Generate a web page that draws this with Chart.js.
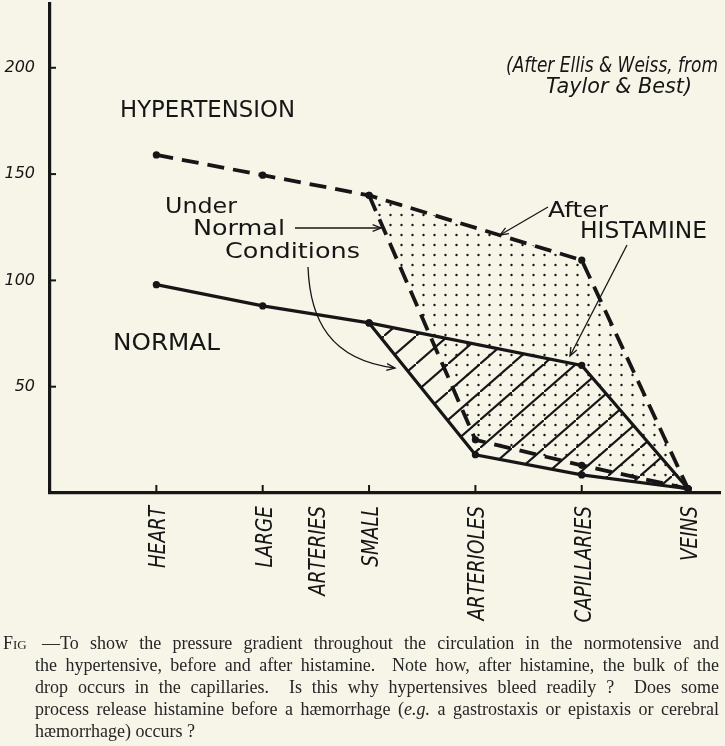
<!DOCTYPE html>
<html>
<head>
<meta charset="utf-8">
<script src="https://cdn.jsdelivr.net/npm/chart.js@4.4.1/dist/chart.umd.min.js"></script>
<style>
  html, body { margin: 0; padding: 0; background: #f7f4e8; }
  #wrap { position: relative; width: 725px; height: 746px; }
  #caption {
    position: absolute; left: 0; top: 632px; width: 719px;
    padding-left: 35px; box-sizing: border-box;
    font-family: "Liberation Serif", serif; font-size: 18px; line-height: 22px; color: #262626;
  }
  #caption div { text-align: justify; text-align-last: justify; }
  #caption div.last { text-align-last: left; }
  #fig { position: absolute; left: 3px; top: 0; font-variant: small-caps; }
</style>
</head>
<body>
<div id="wrap">
  <canvas id="chart" width="725" height="746"></canvas>
  <div id="caption">
    <span id="fig">Fig</span>
    <div style="padding-left:7px">—To show the pressure gradient throughout the circulation in the normotensive and</div>
    <div>the hypertensive, before and after histamine.&nbsp; Note how, after histamine, the bulk of the</div>
    <div>drop occurs in the capillaries.&nbsp; Is this why hypertensives bleed readily ?&nbsp; Does some</div>
    <div>process release histamine before a hæmorrhage (<i>e.g.</i> a gastrostaxis or epistaxis or cerebral</div>
    <div class="last">hæmorrhage) occurs ?</div>
  </div>
</div>
<script>
// stations along the circulation, left to right
const stations = ['HEART', 'LARGE', 'SMALL', 'ARTERIOLES', 'CAPILLARIES', 'VEINS'];
const groupLabel = 'ARTERIES';   // shared by LARGE and SMALL
const yTicks = [50, 100, 150, 200];

// pressure (mm Hg) at each station, null = no point drawn
const normalBefore = [98, 88, 80, null, 60, 2];
const normalAfter  = [null, null, 80, 18, 8.5, 2];
const hyperBefore  = [159, 149.5, 140, null, 109.5, 2];
const hyperAfter   = [null, null, 140, 25, 13, 2];

const ink = '#161616';

function toPoints(vals) {
  return vals.map((v, i) => v === null ? null : { x: i, y: v }).filter(p => p);
}

function hatchPattern() {
  const c = document.createElement('canvas');
  c.width = 32; c.height = 28;
  const g = c.getContext('2d');
  g.strokeStyle = ink; g.lineWidth = 2.1;
  g.beginPath();
  g.moveTo(-2, 29.75); g.lineTo(34, -1.75);
  g.stroke();
  return g.createPattern(c, 'repeat');
}

function dotPattern() {
  const c = document.createElement('canvas');
  c.width = 11; c.height = 10;
  const g = c.getContext('2d');
  g.fillStyle = ink;
  g.beginPath(); g.arc(5.5, 5, 1.2, 0, Math.PI * 2); g.fill();
  return g.createPattern(c, 'repeat');
}

const ctx = document.getElementById('chart').getContext('2d');

function lineSet(vals, dashed, fill, bg) {
  return {
    data: toPoints(vals),
    borderColor: ink,
    borderWidth: dashed ? 3.8 : 3.2,
    borderDash: dashed ? [17, 9] : [],
    pointRadius: 3.6,
    pointBackgroundColor: ink,
    pointBorderWidth: 0,
    tension: 0,
    fill: fill,
    backgroundColor: bg || 'transparent'
  };
}

const notes = [
  { text: 'HYPERTENSION', x: 120, y: 117, w: 175, size: 23 },
  { text: 'NORMAL', x: 113, y: 350, w: 107, size: 23 },
  { text: 'Under', x: 165, y: 213, w: 72, size: 22 },
  { text: 'Normal', x: 193, y: 235, w: 92, size: 22 },
  { text: 'Conditions', x: 225, y: 258, w: 135, size: 22 },
  { text: 'After', x: 548, y: 217, w: 60, size: 22 },
  { text: 'HISTAMINE', x: 580, y: 238, w: 127, size: 23 },
  { text: '(After Ellis & Weiss, from', x: 506, y: 72, w: 212, size: 21, italic: true },
  { text: 'Taylor & Best)', x: 546, y: 93, w: 146, size: 21, italic: true }
];

function fitText(g, t, x, y, w, font) {
  g.save();
  g.font = font; g.textAlign = 'left'; g.textBaseline = 'alphabetic';
  const m = g.measureText(t).width;
  g.translate(x, y); g.scale(w / m, 1);
  g.fillText(t, 0, 0);
  g.restore();
}

function arrowHead(g, x, y, ang) {
  const len = 9, spread = 0.38;
  g.beginPath();
  g.moveTo(x - len * Math.cos(ang - spread), y - len * Math.sin(ang - spread));
  g.lineTo(x, y);
  g.lineTo(x - len * Math.cos(ang + spread), y - len * Math.sin(ang + spread));
  g.stroke();
}

function straightArrow(g, x1, y1, x2, y2) {
  g.beginPath(); g.moveTo(x1, y1); g.lineTo(x2, y2); g.stroke();
  arrowHead(g, x2, y2, Math.atan2(y2 - y1, x2 - x1));
}

const decor = {
  id: 'decor',
  afterDraw(chart) {
    const g = chart.ctx;
    const xs = chart.scales.x, ys = chart.scales.y;
    const x0 = chart.chartArea.left, yb = chart.chartArea.bottom;
    g.save();
    g.strokeStyle = ink; g.fillStyle = ink;

    // inward tick marks
    g.lineWidth = 2;
    yTicks.forEach(v => {
      const y = ys.getPixelForValue(v);
      g.beginPath(); g.moveTo(x0, y); g.lineTo(x0 + 6, y); g.stroke();
    });
    stations.forEach((s, i) => {
      const x = xs.getPixelForValue(i);
      g.beginPath(); g.moveTo(x, yb); g.lineTo(x, yb - 8); g.stroke();
    });

    // rotated station labels
    const labelFont = 'italic 23px "DejaVu Sans"';
    const drawRot = (t, xv) => {
      const x = xs.getPixelForValue(xv);
      g.save();
      g.font = labelFont; g.textAlign = 'right'; g.textBaseline = 'alphabetic';
      g.translate(x + 9, yb + 13);
      g.rotate(-Math.PI / 2);
      g.scale(0.8, 1);
      g.fillText(t, 0, 0);
      g.restore();
    };
    stations.forEach((s, i) => drawRot(s, i));
    drawRot(groupLabel, 1.5);

    // annotations
    notes.forEach(n => {
      const font = (n.italic ? 'italic ' : '') + n.size + 'px "DejaVu Sans"';
      fitText(g, n.text, n.x, n.y, n.w, font);
    });

    // arrows
    g.lineWidth = 1.3;
    straightArrow(g, 295, 228, 381, 228);
    g.beginPath();
    g.moveTo(308, 267);
    g.bezierCurveTo(310, 320, 330, 360, 395, 368);
    g.stroke();
    arrowHead(g, 395, 368, Math.atan2(8, 65));
    straightArrow(g, 548, 207, 500, 235);
    straightArrow(g, 627, 245, 570, 356);

    g.restore();
  }
};

new Chart(ctx, {
  type: 'line',
  data: {
    datasets: [
      lineSet(normalBefore, false, false),
      lineSet(normalAfter, false, '-1', hatchPattern()),
      lineSet(hyperBefore, true, false),
      lineSet(hyperAfter, true, '-1', dotPattern())
    ]
  },
  options: {
    responsive: false,
    animation: false,
    events: [],
    layout: { padding: { top: 3, right: 5, left: 0, bottom: 0 } },
    plugins: {
      legend: { display: false },
      tooltip: { enabled: false },
      filler: { drawTime: 'beforeDatasetsDraw' }
    },
    scales: {
      x: {
        type: 'linear',
        min: -1,
        max: 5.3,
        grid: { display: false, drawTicks: false },
        border: { display: true, color: ink, width: 3.2 },
        ticks: { display: false },
        afterFit(scale) {
          scale.height = 253;
          scale.paddingLeft = 0; scale.paddingRight = 0;
        }
      },
      y: {
        min: 0,
        max: 230,
        grid: { display: false, drawTicks: false },
        border: { display: true, color: ink, width: 3.2 },
        ticks: {
          stepSize: 50,
          includeBounds: false,
          padding: 15,
          color: ink,
          font: { family: 'DejaVu Sans', style: 'italic', size: 16 },
          callback: v => yTicks.includes(v) ? String(v) : ''
        },
        afterFit(scale) {
          scale.width = 50;
          scale.paddingTop = 0; scale.paddingBottom = 0;
        }
      }
    }
  },
  plugins: [decor]
});
</script>
</body>
</html>
